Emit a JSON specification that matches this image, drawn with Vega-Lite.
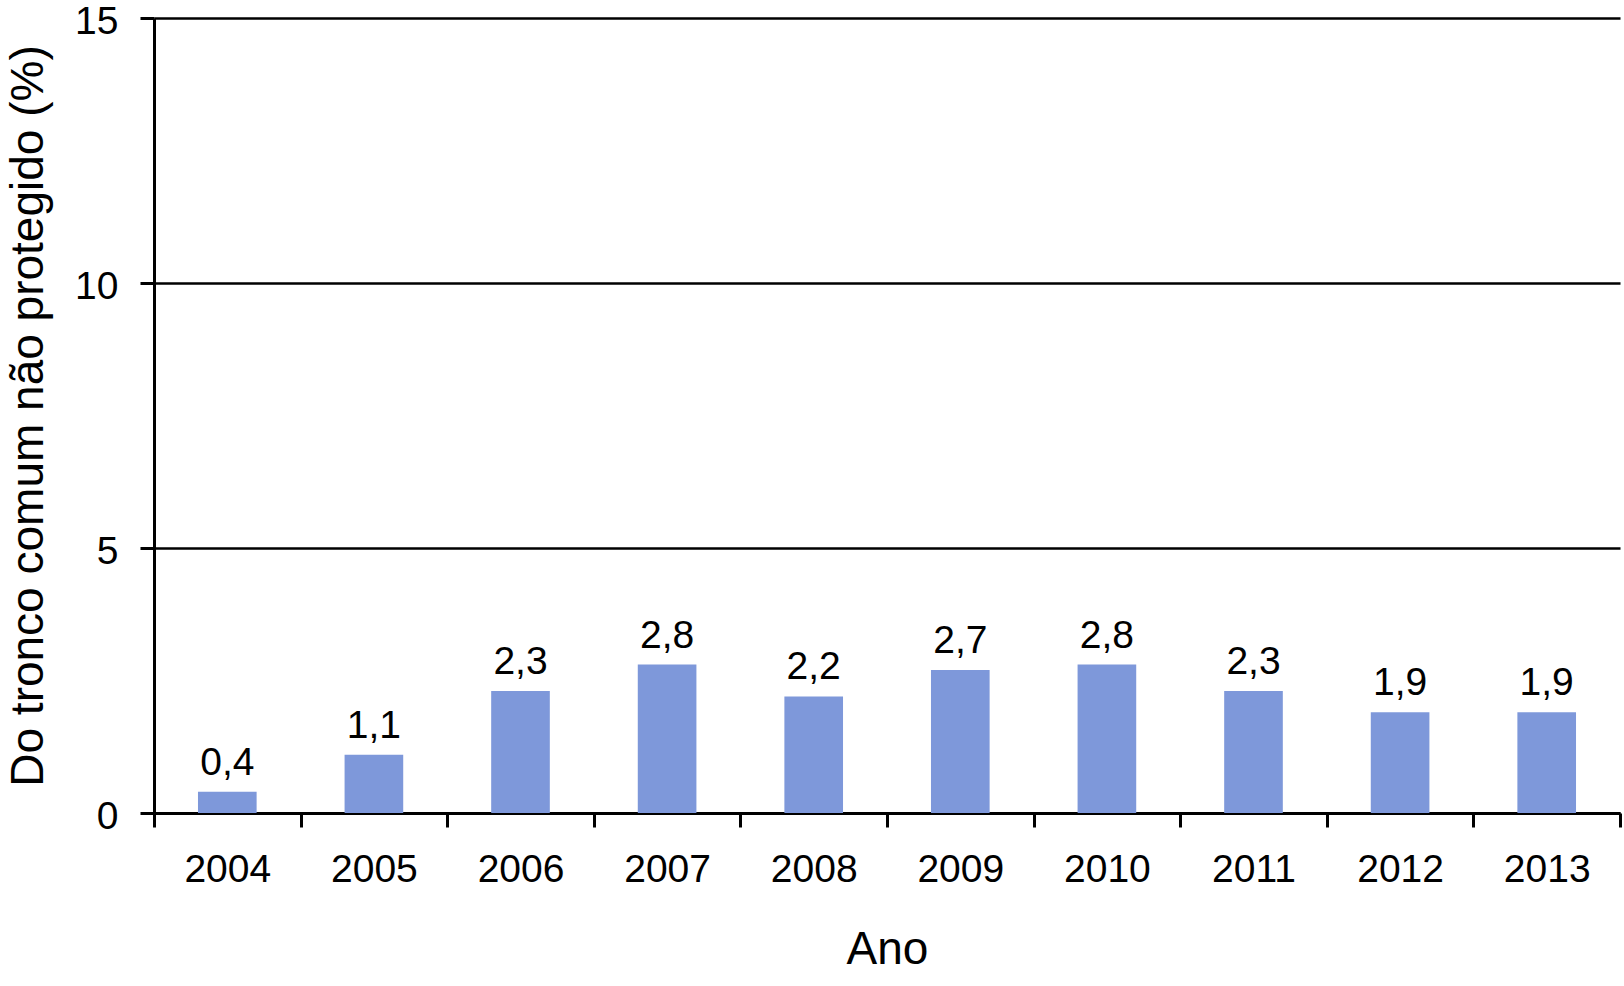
{
  "$schema": "https://vega.github.io/schema/vega-lite/v6.json",
  "width": 1466,
  "height": 795,
  "autosize": {"type": "none"},
  "padding": {"left": 154, "top": 18, "right": 4, "bottom": 173},
  "background": "white",
  "config": {
    "view": {"stroke": null},
    "font": "Liberation Sans",
    "locale": {"number": {"decimal": ",", "thousands": ".", "grouping": [3], "currency": ["", ""]}},
    "axis": {
      "domainColor": "black",
      "domainWidth": 3,
      "tickColor": "black",
      "tickWidth": 3,
      "tickSize": 14,
      "labelColor": "black",
      "titleColor": "black",
      "labelFont": "Liberation Sans",
      "titleFont": "Liberation Sans",
      "titleFontWeight": "normal"
    }
  },
  "data": {
    "values": [
      {"ano": "2004", "valor": 0.4},
      {"ano": "2005", "valor": 1.1},
      {"ano": "2006", "valor": 2.3},
      {"ano": "2007", "valor": 2.8},
      {"ano": "2008", "valor": 2.2},
      {"ano": "2009", "valor": 2.7},
      {"ano": "2010", "valor": 2.8},
      {"ano": "2011", "valor": 2.3},
      {"ano": "2012", "valor": 1.9},
      {"ano": "2013", "valor": 1.9}
    ]
  },
  "encoding": {
    "x": {
      "field": "ano",
      "type": "ordinal",
      "scale": {"paddingInner": 0, "paddingOuter": 0},
      "axis": {
        "title": "Ano",
        "labelAngle": 0,
        "labelFontSize": 39,
        "labelPadding": 23,
        "titleFontSize": 46,
        "titlePadding": 38,
        "tickBand": "extent"
      }
    },
    "y": {
      "field": "valor",
      "type": "quantitative",
      "scale": {"domain": [0, 15]},
      "axis": {
        "title": "Do tronco comum não protegido (%)",
        "values": [0, 5, 10, 15],
        "grid": true,
        "gridColor": "black",
        "gridWidth": 2.5,
        "gridOpacity": 1,
        "labelFontSize": 39,
        "labelPadding": 22,
        "labelOffset": 3,
        "titleFontSize": 46,
        "titlePadding": 22
      }
    }
  },
  "layer": [
    {
      "mark": {"type": "bar", "color": "#7e98da", "width": {"band": 0.4}}
    },
    {
      "mark": {"type": "text", "baseline": "alphabetic", "dy": -17, "fontSize": 39, "color": "black"},
      "encoding": {
        "text": {"field": "valor", "type": "quantitative", "format": ".1f"}
      }
    }
  ]
}
